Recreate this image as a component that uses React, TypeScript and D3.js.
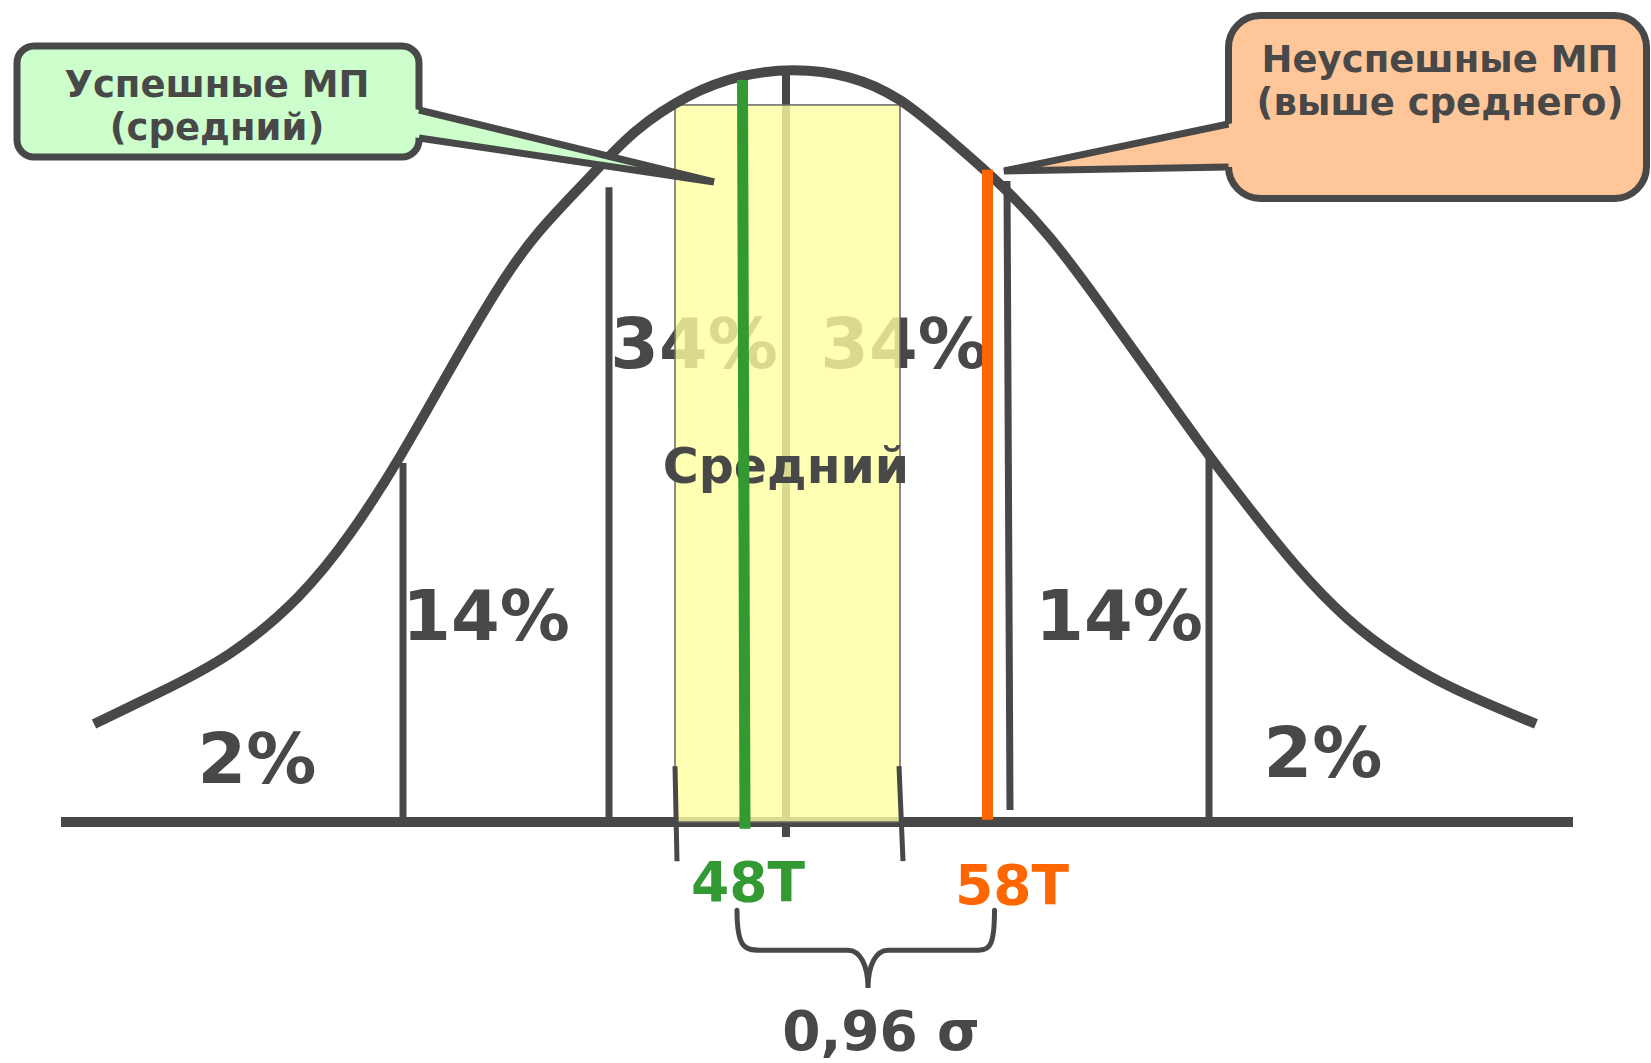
import React from "react";
import * as d3 from "d3";

// ---------- data ----------
// bell curve, x in sigma-like units (0 = mean), y = relative height (1 = peak)
const curveZ = [-3.46, -3.145, -2.78, -2.42, -2.175, -1.935, -1.69, -1.45, -1.255, -0.965, -0.765, -0.48, -0.23, 0.035, 0.32, 0.57, 0.815, 1.065, 1.315, 1.56, 1.81, 2.06, 2.31, 2.555, 2.805, 3.055, 3.305, 3.75];
const curveH = [0.13, 0.17, 0.218, 0.298, 0.381, 0.48, 0.596, 0.706, 0.781, 0.859, 0.918, 0.967, 0.991, 1.0, 0.991, 0.962, 0.906, 0.849, 0.78, 0.692, 0.599, 0.505, 0.418, 0.336, 0.267, 0.218, 0.179, 0.13];

// sigma division lines: position, top height, bottom height
const sigmaZ = [-1.915, -0.885, 0, 1.105, 2.115];
const sigmaTop = [0.476, 0.842, 0.992, 0.85, 0.487];
const sigmaBottom = [0, 0, -0.02, 0.016, 0];

// shares of the distribution
const shareLabels = ["2%", "14%", "34%", "34%", "14%", "2%"];

// "average" band
const bandZ = [-0.555, 0.57];
const bandTop = 0.951;
const bandLabel = "Средний";

// the two observed results
const scoreLabels = ["48T", "58T"];
const scoreTopZ = [-0.2175, 1.0075];
const scoreBottomZ = [-0.205, 1.0075];
const scoreTop = [0.984, 0.865];
const gapLabel = "0,96 σ";

// callouts
const calloutGreen = ["Успешные МП", "(средний)"];
const calloutOrange = ["Неуспешные МП", "(выше среднего)"];

// ---------- layout ----------
const W = 1651;
const H = 1063;
const DARK = "#484848";
const GREEN = "#339933";
const ORANGE = "#FF6600";
const FONT = "'DejaVu Sans', Verdana, sans-serif";

const x = d3.scaleLinear().domain([-4, 4]).range([-14, 1586]);
const y = d3.scaleLinear().domain([0, 1]).range([822, 68]);

const shareAnchors: [number, number][] = [
  [-2.645, 0.052],
  [-1.5, 0.241],
  [-0.46, 0.602],
  [0.59, 0.602],
  [1.665, 0.241],
  [2.685, 0.06],
];

function Callout(props: {
  box: [number, number, number, number];
  r: number;
  fill: string;
  base: [number, number][];
  tip: [number, number];
  lines: string[];
  cx: number;
  baselines: number[];
}) {
  const { box, r, fill, base, tip, lines, cx, baselines } = props;
  const ext = (p: [number, number]) => {
    const t = 0.05;
    return [p[0] + (p[0] - tip[0]) * t, p[1] + (p[1] - tip[1]) * t];
  };
  const b0 = ext(base[0]);
  const b1 = ext(base[1]);
  const strokePath = d3.path();
  strokePath.moveTo(base[0][0], base[0][1]);
  strokePath.lineTo(tip[0], tip[1]);
  strokePath.lineTo(base[1][0], base[1][1]);
  const fillPath = d3.path();
  fillPath.moveTo(b0[0], b0[1]);
  fillPath.lineTo(tip[0], tip[1]);
  fillPath.lineTo(b1[0], b1[1]);
  fillPath.closePath();
  return (
    <g>
      <rect x={box[0]} y={box[1]} width={box[2]} height={box[3]} rx={r} ry={r} fill={fill} stroke={DARK} strokeWidth={7} />
      <path d={fillPath.toString()} fill={fill} stroke="none" />
      <path d={strokePath.toString()} fill="none" stroke={DARK} strokeWidth={7} strokeLinejoin="miter" strokeMiterlimit={2} />
      {lines.map((s, i) => (
        <text key={i} x={cx} y={baselines[i]} textAnchor="middle" fontFamily={FONT} fontWeight="bold" fontSize={37} fill={DARK}>
          {s}
        </text>
      ))}
    </g>
  );
}

export default function App() {
  const pts: [number, number][] = curveZ.map((z, i) => [x(z), y(curveH[i])]);
  const line = d3.line().curve(d3.curveBasis);
  const curveD = line(pts) || "";

  const meanIdx = sigmaZ.indexOf(0);

  // brace between the two scores
  const xl = x(scoreBottomZ[0]) - 8;
  const xr = x(scoreBottomZ[1]) + 7;
  const xm = x(0.41);
  const yTop = y(-0.117);
  const yMid = y(-0.170);
  const yBot = y(-0.220);
  const brace = d3.path();
  brace.moveTo(xl, yTop);
  brace.bezierCurveTo(xl, yMid - 2, xl + 8, yMid, xl + 23, yMid);
  brace.lineTo(xm - 20, yMid);
  brace.bezierCurveTo(xm - 8, yMid, xm, yMid + 15, xm, yBot);
  brace.bezierCurveTo(xm, yMid + 15, xm + 8, yMid, xm + 20, yMid);
  brace.lineTo(xr - 20, yMid);
  brace.bezierCurveTo(xr - 5, yMid, xr, yMid - 2, xr, yTop);

  return (
    <svg width={W} height={H} style={{ position: "absolute", left: 0, top: 0, background: "#fff" }}>
      {/* baseline */}
      <line x1={x(-3.625)} x2={x(3.935)} y1={y(0)} y2={y(0)} stroke={DARK} strokeWidth={10} />

      {/* sigma division lines */}
      {sigmaZ.map((z, i) => (
        <line
          key={i}
          x1={x(z)}
          x2={x(z) + (i === 3 ? 3 : 0)}
          y1={y(sigmaTop[i])}
          y2={y(sigmaBottom[i])}
          stroke={DARK}
          strokeWidth={i === meanIdx ? 8 : 7}
        />
      ))}

      {/* share labels (under the band) */}
      {shareLabels.map((s, i) => (
        <text
          key={i}
          x={x(shareAnchors[i][0])}
          y={y(shareAnchors[i][1])}
          textAnchor="middle"
          fontFamily={FONT}
          fontWeight="bold"
          fontSize={70}
          fill={DARK}
        >
          {s}
        </text>
      ))}

      {/* average band */}
      <rect
        x={x(bandZ[0])}
        y={y(bandTop)}
        width={x(bandZ[1]) - x(bandZ[0])}
        height={y(0) - y(bandTop)}
        fill="rgb(255,255,160)"
        fillOpacity={0.8}
        stroke="#666"
        strokeWidth={1.5}
      />
      <line x1={x(bandZ[0])} x2={x(bandZ[0]) + 2} y1={y(0.074)} y2={y(-0.052)} stroke={DARK} strokeWidth={5} />
      <line x1={x(bandZ[1]) - 1} x2={x(bandZ[1]) + 3} y1={y(0.074)} y2={y(-0.052)} stroke={DARK} strokeWidth={5} />
      <text x={x(0.0)} y={y(0.45)} textAnchor="middle" fontFamily={FONT} fontWeight="bold" fontSize={49} fill={DARK}>
        {bandLabel}
      </text>

      {/* bell curve */}
      <path d={curveD} fill="none" stroke={DARK} strokeWidth={10} strokeLinejoin="round" />

      {/* score lines */}
      <line x1={x(scoreTopZ[0])} x2={x(scoreBottomZ[0])} y1={y(scoreTop[0])} y2={y(-0.009)} stroke={GREEN} strokeWidth={11} />
      <line x1={x(scoreTopZ[1])} x2={x(scoreBottomZ[1])} y1={y(scoreTop[1])} y2={y(0.003)} stroke={ORANGE} strokeWidth={11} />

      {/* score labels */}
      <text x={x(-0.19)} y={y(-0.105)} textAnchor="middle" fontFamily={FONT} fontWeight="bold" fontSize={55} fill={GREEN}>
        {scoreLabels[0]}
      </text>
      <text x={x(1.13)} y={y(-0.109)} textAnchor="middle" fontFamily={FONT} fontWeight="bold" fontSize={55} fill={ORANGE}>
        {scoreLabels[1]}
      </text>

      {/* brace + gap */}
      <path d={brace.toString()} fill="none" stroke={DARK} strokeWidth={5} strokeLinecap="round" />
      <text x={x(0.475)} y={y(-0.302)} textAnchor="middle" fontFamily={FONT} fontWeight="bold" fontSize={55} fill={DARK}>
        {gapLabel}
      </text>

      {/* callouts */}
      <Callout
        box={[17, 46, 402, 111]}
        r={17}
        fill="#CCFFCC"
        base={[
          [419, 110],
          [419, 138],
        ]}
        tip={[714, 182]}
        lines={calloutGreen}
        cx={217}
        baselines={[97, 140]}
      />
      <Callout
        box={[1228.5, 15.5, 418, 183]}
        r={32}
        fill="#FFC699"
        base={[
          [1228.5, 124],
          [1228.5, 167],
        ]}
        tip={[1004, 171]}
        lines={calloutOrange}
        cx={1440}
        baselines={[72, 115]}
      />
    </svg>
  );
}
